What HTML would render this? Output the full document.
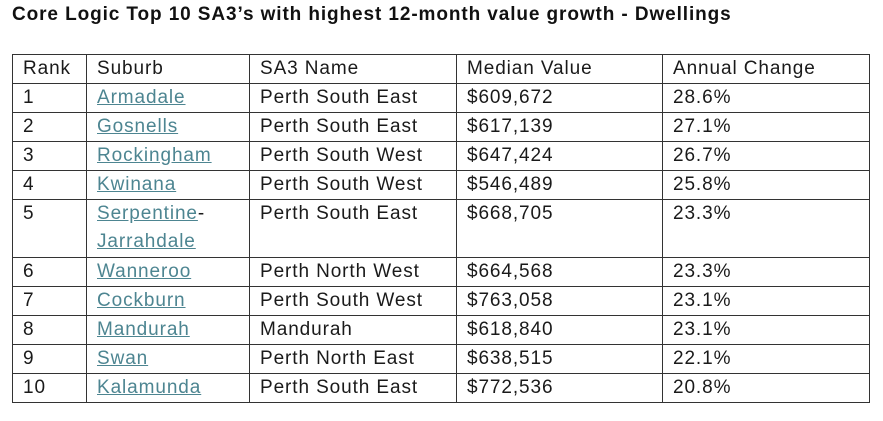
<!DOCTYPE html>
<html><head><meta charset="utf-8"><style>
body{margin:0;width:883px;height:421px;background:#fff;font-family:"Liberation Sans",sans-serif;position:relative;overflow:hidden}
#title{position:absolute;left:12px;top:4px;font-size:19px;font-weight:bold;color:#111;letter-spacing:0.9px;white-space:nowrap}
table{position:absolute;left:12px;top:54px;border-collapse:collapse;font-size:19px;letter-spacing:0.9px;color:#1a1a1a;table-layout:fixed}
td{border:1.5px solid #333;padding:0 0 0 10px;height:28px;line-height:28px;vertical-align:top;white-space:nowrap;overflow:hidden}
a{color:#4d8591;text-decoration:underline}
</style></head><body>
<div id="title">Core Logic Top 10 SA3’s with highest 12-month value growth - Dwellings</div>
<table>
<colgroup><col style="width:74px"><col style="width:163px"><col style="width:207px"><col style="width:206px"><col style="width:207px"></colgroup>
<tr><td>Rank</td><td>Suburb</td><td>SA3 Name</td><td>Median Value</td><td>Annual Change</td></tr>
<tr><td>1</td><td><a>Armadale</a></td><td>Perth South East</td><td>$609,672</td><td>28.6%</td></tr>
<tr><td>2</td><td><a>Gosnells</a></td><td>Perth South East</td><td>$617,139</td><td>27.1%</td></tr>
<tr><td>3</td><td><a>Rockingham</a></td><td>Perth South West</td><td>$647,424</td><td>26.7%</td></tr>
<tr><td>4</td><td><a>Kwinana</a></td><td>Perth South West</td><td>$546,489</td><td>25.8%</td></tr>
<tr><td style="height:57px">5</td><td><a>Serpentine</a>-<br><a>Jarrahdale</a></td><td>Perth South East</td><td>$668,705</td><td>23.3%</td></tr>
<tr><td>6</td><td><a>Wanneroo</a></td><td>Perth North West</td><td>$664,568</td><td>23.3%</td></tr>
<tr><td>7</td><td><a>Cockburn</a></td><td>Perth South West</td><td>$763,058</td><td>23.1%</td></tr>
<tr><td>8</td><td><a>Mandurah</a></td><td>Mandurah</td><td>$618,840</td><td>23.1%</td></tr>
<tr><td>9</td><td><a>Swan</a></td><td>Perth North East</td><td>$638,515</td><td>22.1%</td></tr>
<tr><td>10</td><td><a>Kalamunda</a></td><td>Perth South East</td><td>$772,536</td><td>20.8%</td></tr>
</table>
</body></html>
